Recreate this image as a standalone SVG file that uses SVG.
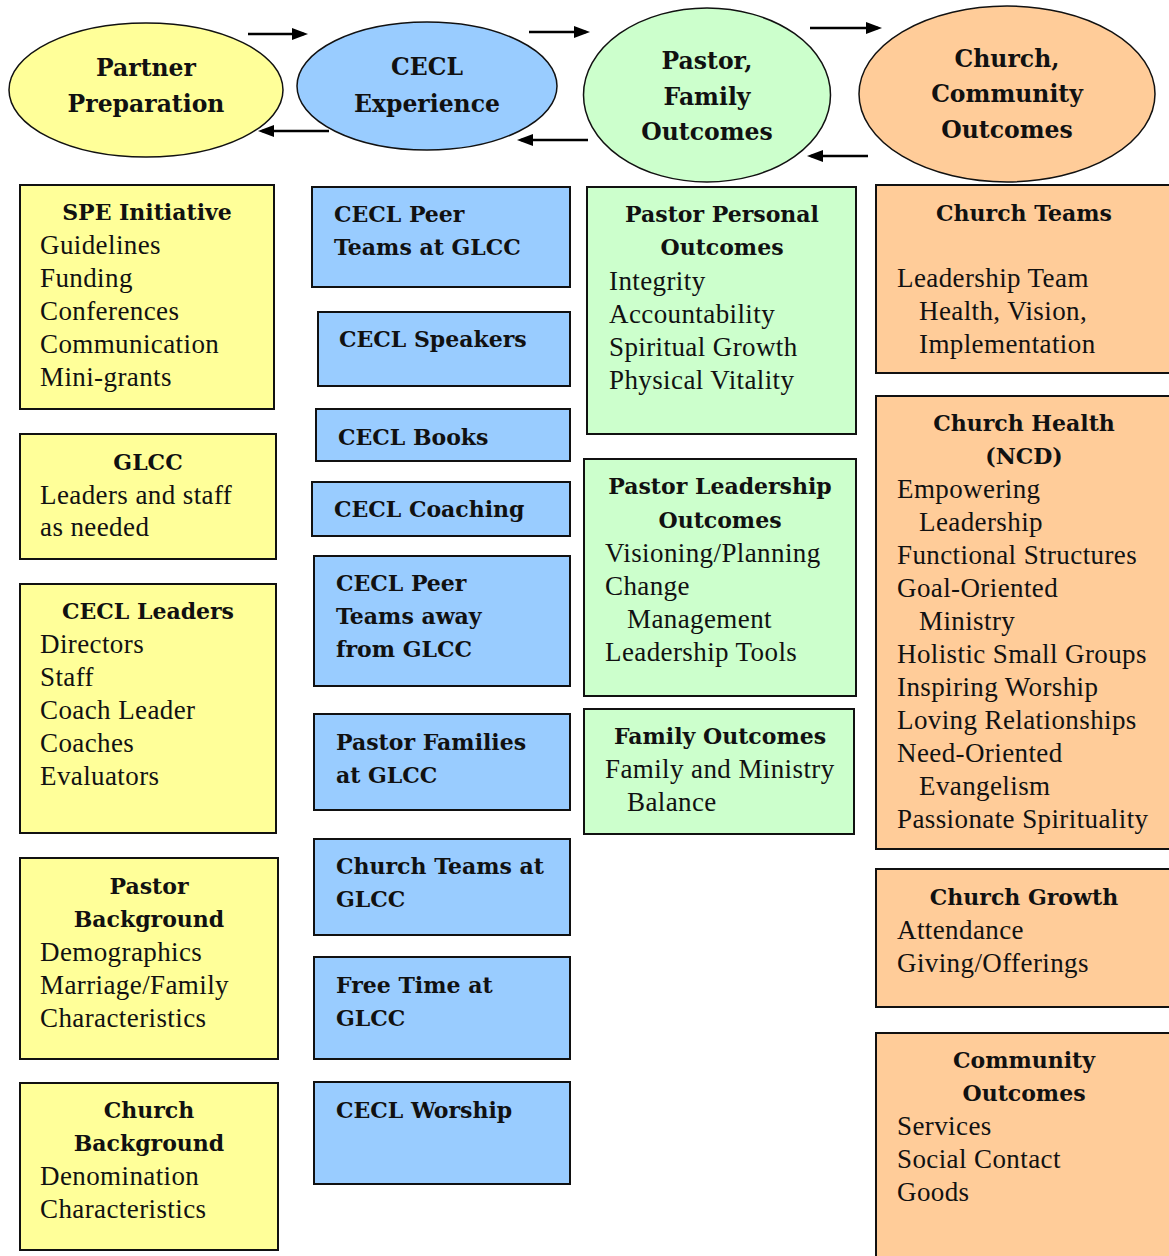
<svg xmlns="http://www.w3.org/2000/svg" width="1169" height="1256" viewBox="0 0 1169 1256">
<style>
.bx{stroke:#111;stroke-width:2}
.y{fill:#FFFF99}.bl{fill:#99CCFF}.g{fill:#CCFFCC}.o{fill:#FFCC99}
.el{stroke:#111;stroke-width:1.5}
.h{font-family:'DejaVu Serif','Liberation Serif','Times New Roman',Times,serif;font-weight:bold;font-size:22px;fill:#111}
.r{font-family:'Liberation Serif','Times New Roman','DejaVu Serif',Times,serif;font-size:27px;letter-spacing:0.4px;fill:#111}
.et{font-family:'DejaVu Serif','Liberation Serif','Times New Roman',Times,serif;font-weight:bold;font-size:23.5px;fill:#111;text-anchor:middle}
.c{text-anchor:middle}
.ar{stroke:#000;stroke-width:2.5;fill:none}
</style>
<defs>
<marker id="ah" markerUnits="userSpaceOnUse" markerWidth="16" markerHeight="12" refX="12" refY="6" orient="auto">
<path d="M0,0 L16,6 L0,12 z" fill="#000"/>
</marker>
</defs>
<rect width="1169" height="1256" fill="#fff"/>

<g id="ellipse-partner">
<ellipse class="el y" cx="146" cy="90" rx="137" ry="67"/>
<text class="et" x="146" y="76">Partner</text>
<text class="et" x="146" y="112">Preparation</text>
</g>
<g id="ellipse-cecl">
<ellipse class="el bl" cx="427" cy="86" rx="130" ry="64"/>
<text class="et" x="427" y="75">CECL</text>
<text class="et" x="427" y="112">Experience</text>
</g>
<g id="ellipse-pastor">
<ellipse class="el g" cx="707" cy="95" rx="123.5" ry="87"/>
<text class="et" x="707" y="69">Pastor,</text>
<text class="et" x="707" y="105">Family</text>
<text class="et" x="707" y="140">Outcomes</text>
</g>
<g id="ellipse-church">
<ellipse class="el o" cx="1007" cy="94" rx="148" ry="88"/>
<text class="et" x="1007" y="67">Church,</text>
<text class="et" x="1007" y="102">Community</text>
<text class="et" x="1007" y="138">Outcomes</text>
</g>

<g id="connectors">
<line class="ar" x1="248" y1="34" x2="304" y2="34" marker-end="url(#ah)"/>
<line class="ar" x1="329" y1="131" x2="262" y2="131" marker-end="url(#ah)"/>
<line class="ar" x1="529" y1="32" x2="586" y2="32" marker-end="url(#ah)"/>
<line class="ar" x1="588" y1="140" x2="521" y2="140" marker-end="url(#ah)"/>
<line class="ar" x1="810" y1="28" x2="878" y2="28" marker-end="url(#ah)"/>
<line class="ar" x1="868" y1="156" x2="811" y2="156" marker-end="url(#ah)"/>
</g>

<g id="spe-initiative">
<rect class="bx y" x="20" y="185" width="254" height="224"/>
<text class="h c" x="147" y="220">SPE Initiative</text>
<text class="r" x="40" y="254">Guidelines</text>
<text class="r" x="40" y="287">Funding</text>
<text class="r" x="40" y="320">Conferences</text>
<text class="r" x="40" y="353">Communication</text>
<text class="r" x="40" y="386">Mini-grants</text>
</g>
<g id="glcc">
<rect class="bx y" x="20" y="434" width="256" height="125"/>
<text class="h c" x="148" y="470">GLCC</text>
<text class="r" x="40" y="504">Leaders and staff</text>
<text class="r" x="40" y="536">as needed</text>
</g>
<g id="cecl-leaders">
<rect class="bx y" x="20" y="584" width="256" height="249"/>
<text class="h c" x="148" y="619">CECL Leaders</text>
<text class="r" x="40" y="653">Directors</text>
<text class="r" x="40" y="686">Staff</text>
<text class="r" x="40" y="719">Coach Leader</text>
<text class="r" x="40" y="752">Coaches</text>
<text class="r" x="40" y="785">Evaluators</text>
</g>
<g id="pastor-background">
<rect class="bx y" x="20" y="858" width="258" height="201"/>
<text class="h c" x="149" y="894">Pastor</text>
<text class="h c" x="149" y="927">Background</text>
<text class="r" x="40" y="961">Demographics</text>
<text class="r" x="40" y="994">Marriage/Family</text>
<text class="r" x="40" y="1027">Characteristics</text>
</g>
<g id="church-background">
<rect class="bx y" x="20" y="1083" width="258" height="167"/>
<text class="h c" x="149" y="1118">Church</text>
<text class="h c" x="149" y="1151">Background</text>
<text class="r" x="40" y="1185">Denomination</text>
<text class="r" x="40" y="1218">Characteristics</text>
</g>

<g id="cecl-peer-teams-glcc">
<rect class="bx bl" x="312" y="187" width="258" height="100"/>
<text class="h" x="334" y="222">CECL Peer</text>
<text class="h" x="334" y="255">Teams at GLCC</text>
</g>
<g id="cecl-speakers">
<rect class="bx bl" x="318" y="312" width="252" height="74"/>
<text class="h" x="339" y="347">CECL Speakers</text>
</g>
<g id="cecl-books">
<rect class="bx bl" x="316" y="409" width="254" height="52"/>
<text class="h" x="338" y="445">CECL Books</text>
</g>
<g id="cecl-coaching">
<rect class="bx bl" x="312" y="482" width="258" height="54"/>
<text class="h" x="334" y="517">CECL Coaching</text>
</g>
<g id="cecl-peer-teams-away">
<rect class="bx bl" x="314" y="556" width="256" height="130"/>
<text class="h" x="336" y="591">CECL Peer</text>
<text class="h" x="336" y="624">Teams away</text>
<text class="h" x="336" y="657">from GLCC</text>
</g>
<g id="pastor-families">
<rect class="bx bl" x="314" y="714" width="256" height="96"/>
<text class="h" x="336" y="750">Pastor Families</text>
<text class="h" x="336" y="783">at GLCC</text>
</g>
<g id="church-teams-glcc">
<rect class="bx bl" x="314" y="839" width="256" height="96"/>
<text class="h" x="336" y="874">Church Teams at</text>
<text class="h" x="336" y="907">GLCC</text>
</g>
<g id="free-time">
<rect class="bx bl" x="314" y="957" width="256" height="102"/>
<text class="h" x="336" y="993">Free Time at</text>
<text class="h" x="336" y="1026">GLCC</text>
</g>
<g id="cecl-worship">
<rect class="bx bl" x="314" y="1082" width="256" height="102"/>
<text class="h" x="336" y="1118">CECL Worship</text>
</g>

<g id="pastor-personal-outcomes">
<rect class="bx g" x="587" y="187" width="269" height="247"/>
<text class="h c" x="722" y="222">Pastor Personal</text>
<text class="h c" x="722" y="255">Outcomes</text>
<text class="r" x="609" y="290">Integrity</text>
<text class="r" x="609" y="323">Accountability</text>
<text class="r" x="609" y="356">Spiritual Growth</text>
<text class="r" x="609" y="389">Physical Vitality</text>
</g>
<g id="pastor-leadership-outcomes">
<rect class="bx g" x="584" y="459" width="272" height="237"/>
<text class="h c" x="720" y="494">Pastor Leadership</text>
<text class="h c" x="720" y="528">Outcomes</text>
<text class="r" x="605" y="562">Visioning/Planning</text>
<text class="r" x="605" y="595">Change</text>
<text class="r" x="627" y="628">Management</text>
<text class="r" x="605" y="661">Leadership Tools</text>
</g>
<g id="family-outcomes">
<rect class="bx g" x="584" y="709" width="270" height="125"/>
<text class="h c" x="720" y="744">Family Outcomes</text>
<text class="r" x="605" y="778">Family and Ministry</text>
<text class="r" x="627" y="811">Balance</text>
</g>

<g id="church-teams">
<rect class="bx o" x="876" y="185" width="310" height="188"/>
<text class="h c" x="1024" y="221">Church Teams</text>
<text class="r" x="897" y="287">Leadership Team</text>
<text class="r" x="919" y="320">Health, Vision,</text>
<text class="r" x="919" y="353">Implementation</text>
</g>
<g id="church-health">
<rect class="bx o" x="876" y="396" width="310" height="453"/>
<text class="h c" x="1024" y="431">Church Health</text>
<text class="h c" x="1024" y="464">(NCD)</text>
<text class="r" x="897" y="498">Empowering</text>
<text class="r" x="919" y="531">Leadership</text>
<text class="r" x="897" y="564">Functional Structures</text>
<text class="r" x="897" y="597">Goal-Oriented</text>
<text class="r" x="919" y="630">Ministry</text>
<text class="r" x="897" y="663">Holistic Small Groups</text>
<text class="r" x="897" y="696">Inspiring Worship</text>
<text class="r" x="897" y="729">Loving Relationships</text>
<text class="r" x="897" y="762">Need-Oriented</text>
<text class="r" x="919" y="795">Evangelism</text>
<text class="r" x="897" y="828">Passionate Spirituality</text>
</g>
<g id="church-growth">
<rect class="bx o" x="876" y="869" width="310" height="138"/>
<text class="h c" x="1024" y="905">Church Growth</text>
<text class="r" x="897" y="939">Attendance</text>
<text class="r" x="897" y="972">Giving/Offerings</text>
</g>
<g id="community-outcomes">
<rect class="bx o" x="876" y="1033" width="310" height="240"/>
<text class="h c" x="1024" y="1068">Community</text>
<text class="h c" x="1024" y="1101">Outcomes</text>
<text class="r" x="897" y="1135">Services</text>
<text class="r" x="897" y="1168">Social Contact</text>
<text class="r" x="897" y="1201">Goods</text>
</g>
</svg>
